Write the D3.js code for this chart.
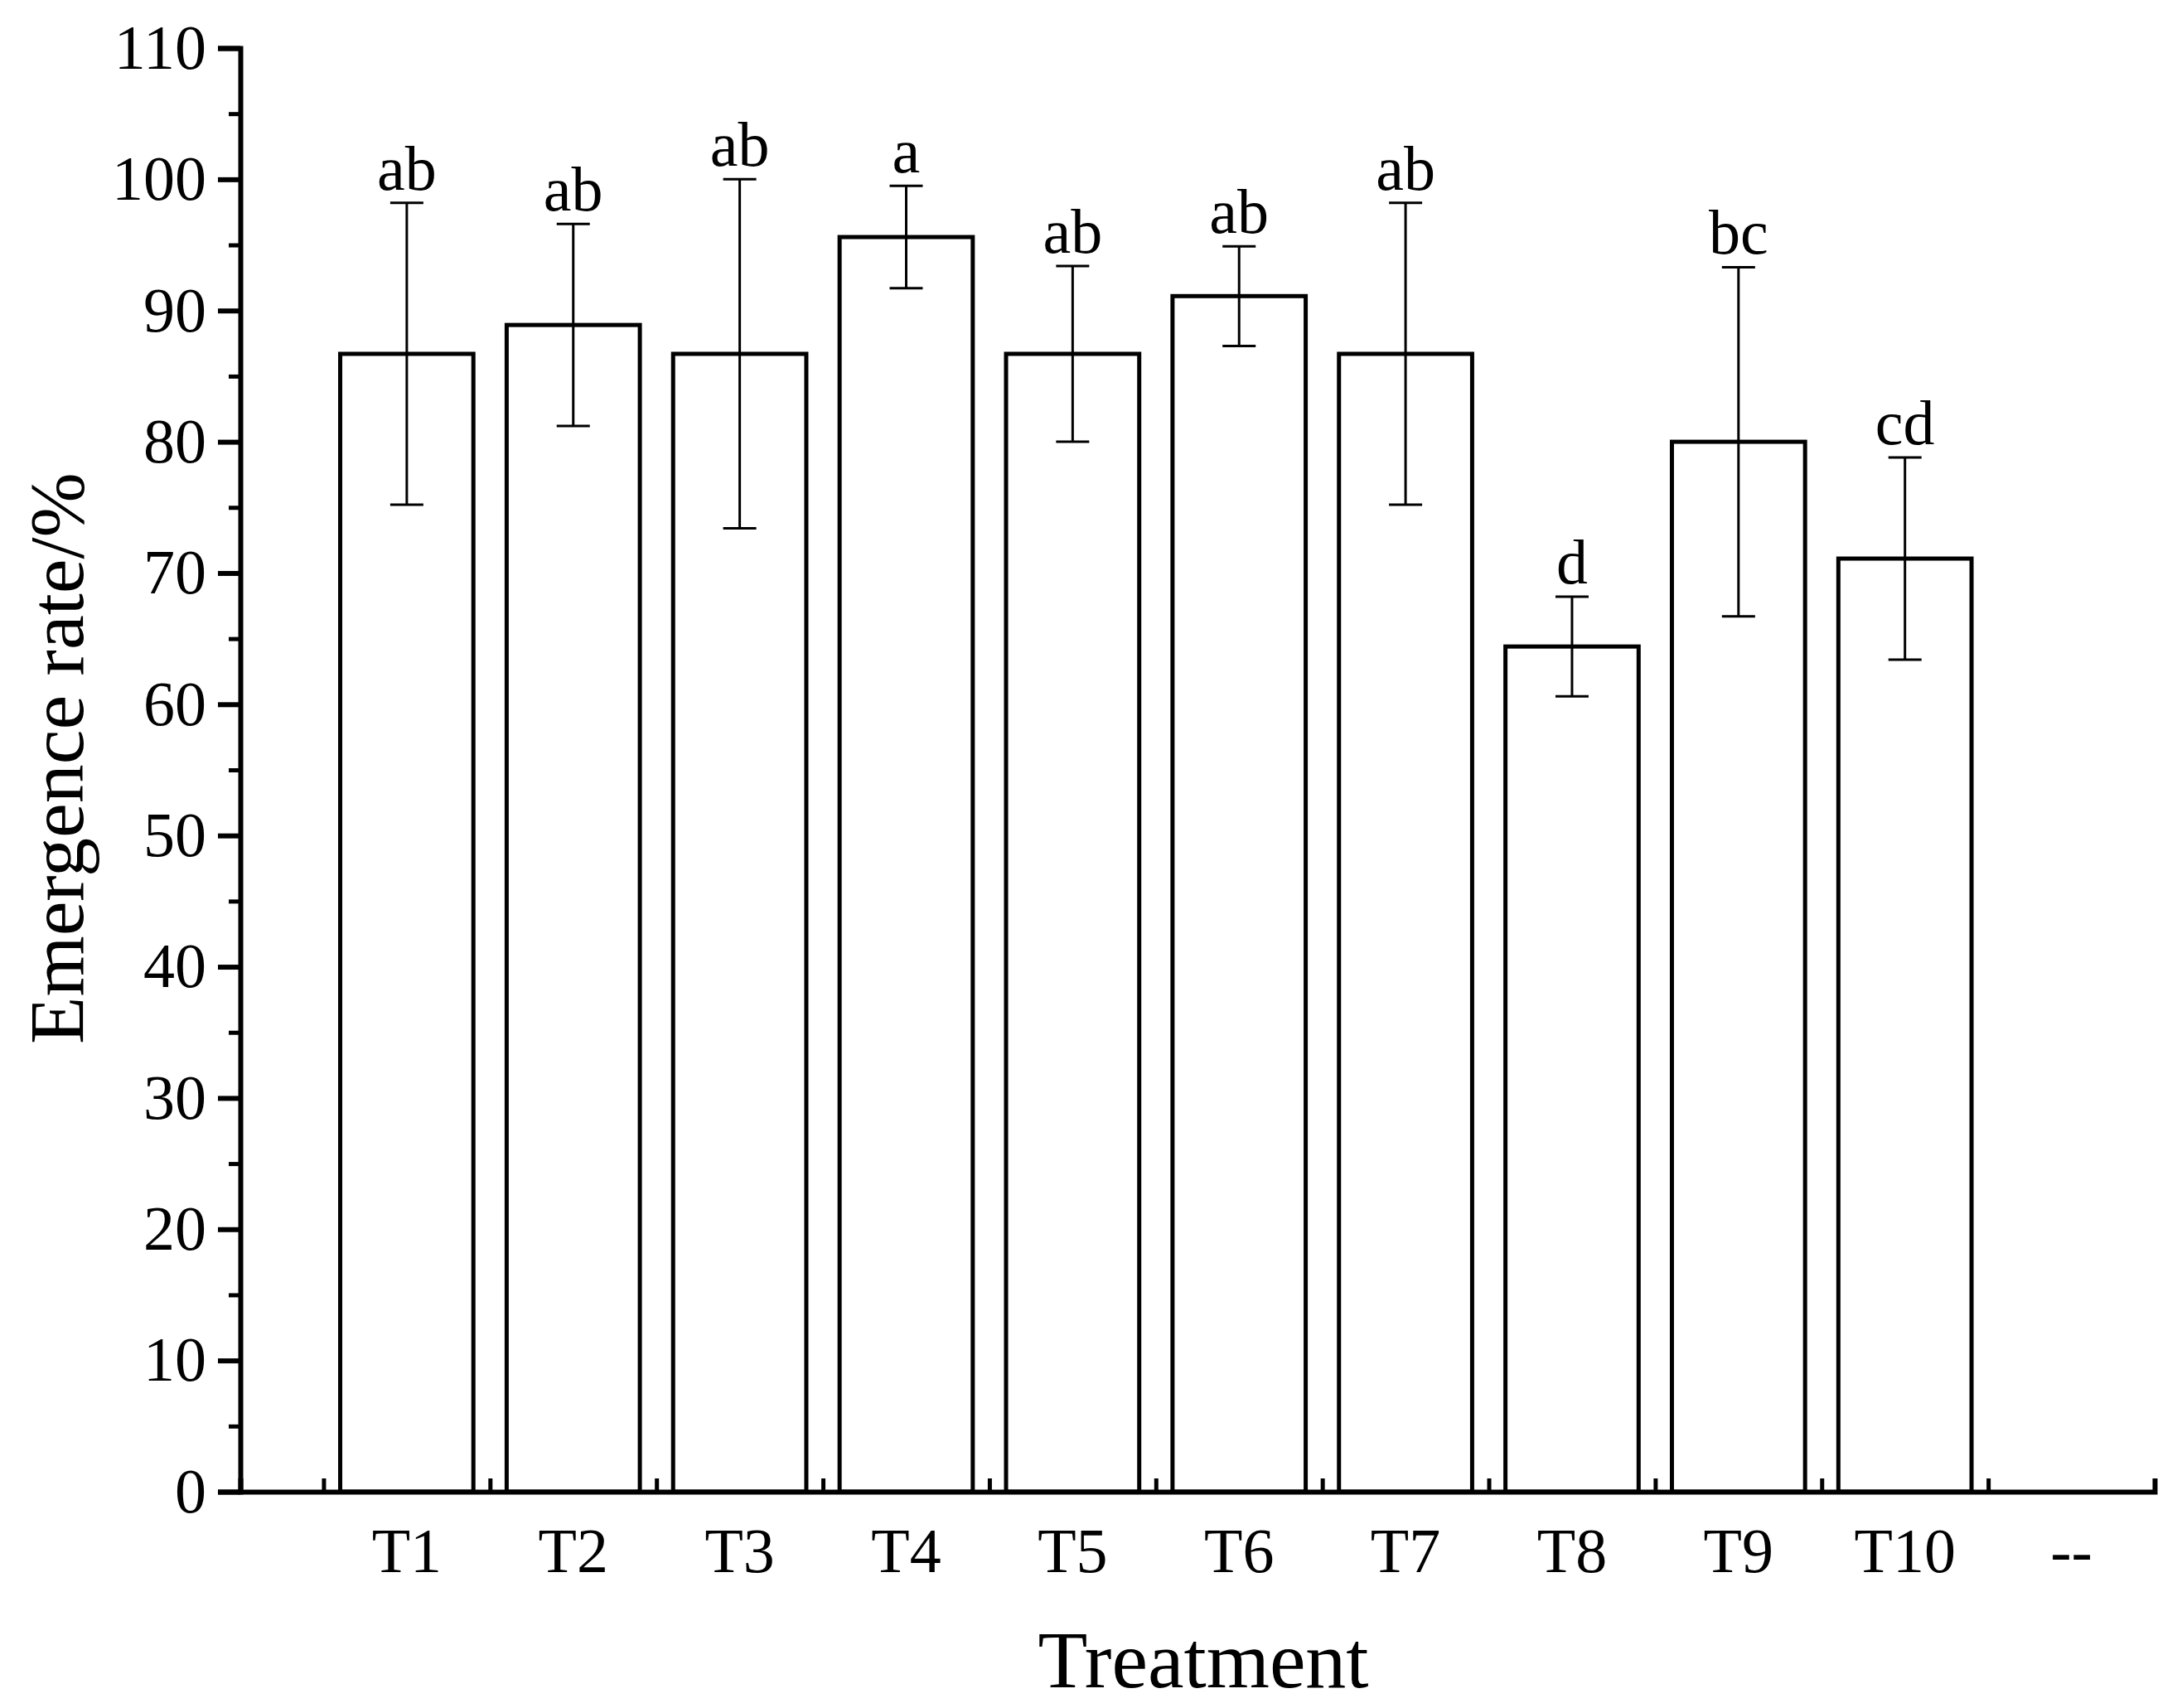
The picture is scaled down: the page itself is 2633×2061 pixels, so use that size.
<!DOCTYPE html><html><head><meta charset="utf-8">
<script src="https://cdn.jsdelivr.net/npm/d3@7"></script>
<style>body{margin:0;background:#fff}</style></head><body>
<svg id="c" width="2633" height="2061"></svg>
<script>
const categories=["T1","T2","T3","T4","T5","T6","T7","T8","T9","T10"];
const extraLabel="--";
const means=[86.7,88.9,86.7,95.6,86.7,91.1,86.7,64.4,80.0,71.1];
const errs=[11.5,7.7,13.3,3.9,6.7,3.8,11.5,3.8,13.3,7.7];
const letters=["ab","ab","ab","a","ab","ab","ab","d","bc","cd"];
const yTicks=[0,10,20,30,40,50,60,70,80,90,100,110];

const svg=d3.select("#c");
const F="'Liberation Serif','Times New Roman',serif";
const L=290,R=2600,B=1800,T=58;
const x=d3.scaleLinear().domain([0,11.5]).range([L,R]);
const y=d3.scaleLinear().domain([0,110]).range([B,T]);
const bw=x(0.8)-x(0);
const g=svg.append("g");
g.selectAll("rect.bar").data(means).join("rect")
 .attr("x",(d,i)=>x(i+1)-bw/2).attr("y",d=>y(d)).attr("width",bw).attr("height",d=>B-y(d))
 .attr("fill","#fff").attr("stroke","#000").attr("stroke-width",5);
const cap=20;
means.forEach((m,i)=>{
 const cx=x(i+1),t=y(m+errs[i]),b=y(m-errs[i]);
 g.append("line").attr("x1",cx).attr("x2",cx).attr("y1",t).attr("y2",b).attr("stroke","#000").attr("stroke-width",3);
 [t,b].forEach(v=>g.append("line").attr("x1",cx-cap).attr("x2",cx+cap).attr("y1",v).attr("y2",v).attr("stroke","#000").attr("stroke-width",3));
 g.append("text").attr("x",cx).attr("y",t-16).attr("text-anchor","middle").attr("font-family",F).attr("font-size",76).text(letters[i]);
});
const ya=svg.append("g").attr("transform",`translate(${L},0)`)
 .call(d3.axisLeft(y).tickValues(yTicks).tickSize(27).tickPadding(14));
ya.selectAll("text").attr("font-family",F).attr("font-size",76).attr("fill","#000");
ya.select(".domain").attr("stroke-width",6);
ya.selectAll(".tick line").attr("stroke-width",6);
const ym=svg.append("g").attr("transform",`translate(${L},0)`)
 .call(d3.axisLeft(y).tickValues(d3.range(5,110,10)).tickSize(14).tickFormat(""));
ym.select(".domain").remove();ym.selectAll(".tick line").attr("stroke-width",5);
const xa=svg.append("g").attr("transform",`translate(0,${B})`)
 .call(d3.axisBottom(x).tickValues(d3.range(0.5,11,1)).tickSize(-16).tickFormat(""));
xa.select(".domain").attr("stroke-width",6);
xa.selectAll(".tick line").attr("stroke-width",5);
const allLabels=categories.concat([extraLabel]);
svg.append("g").selectAll("text").data(allLabels).join("text")
 .attr("x",(d,i)=>x(i+1)).attr("y",1897).attr("text-anchor","middle")
 .attr("font-family",F).attr("font-size",76).text(d=>d);
svg.append("text").attr("x",1452).attr("y",2036).attr("text-anchor","middle").attr("font-family",F).attr("font-size",98).text("Treatment");
svg.append("text").attr("transform","translate(100,915) rotate(-90)").attr("text-anchor","middle").attr("font-family",F).attr("font-size",94).text("Emergence rate/%");
</script></body></html>
